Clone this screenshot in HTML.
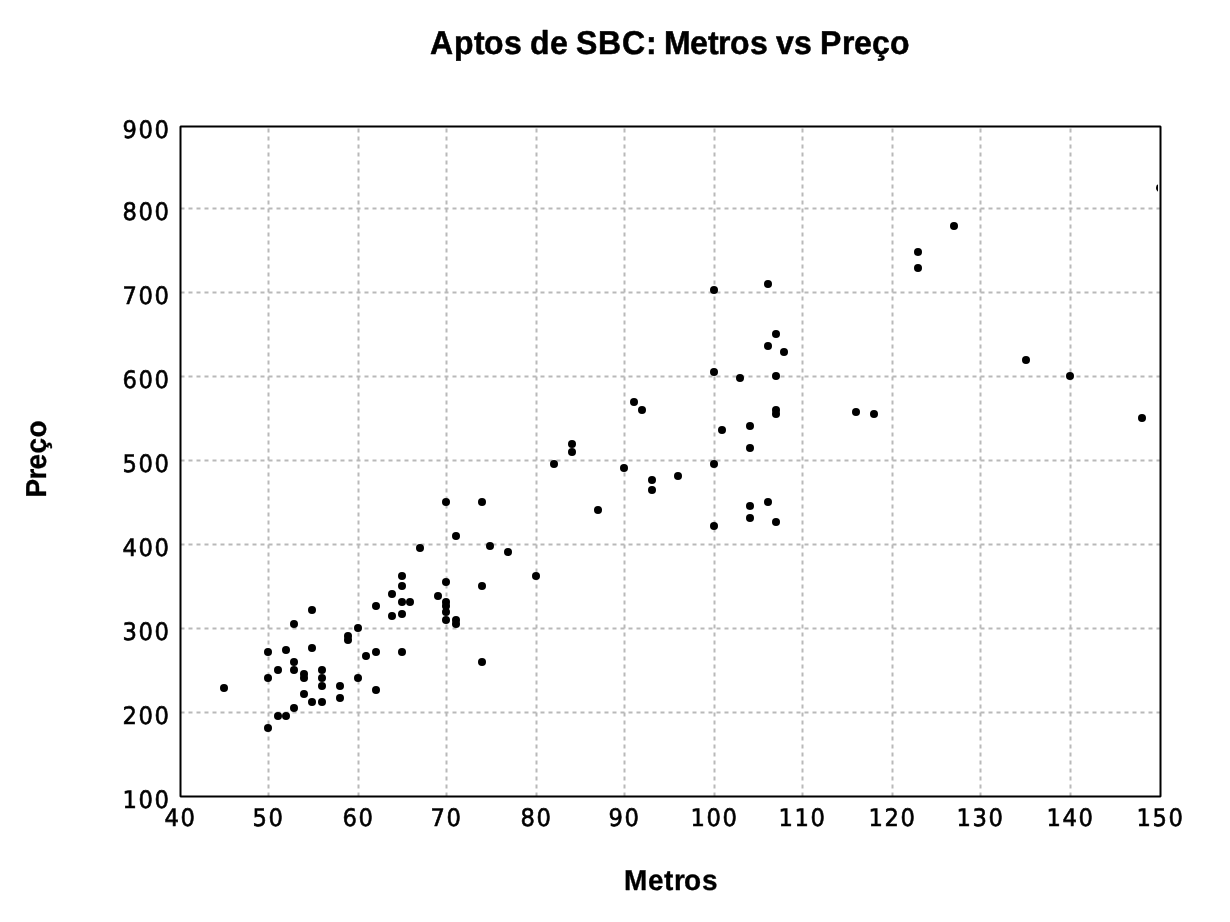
<!DOCTYPE html>
<html lang="pt-BR">
<head>
<meta charset="utf-8">
<title>Aptos de SBC: Metros vs Preço</title>
<style>
html,body{margin:0;padding:0;background:#fff;}
body{width:1230px;height:922px;overflow:hidden;}
svg{display:block;text-rendering:geometricPrecision;}
.t{font-family:"Liberation Sans",sans-serif;font-weight:bold;fill:#000;stroke:#000;stroke-width:0.5px;stroke-linejoin:round;}
.a{stroke-width:0.3px;}
.k{font-family:'DejaVu Sans', 'Liberation Sans', sans-serif;font-size:24.1px;fill:#000;stroke:#000;stroke-width:0.6px;}
.g{stroke:#b9b9b9;stroke-width:2;stroke-dasharray:4 4;fill:none;}
</style>
</head>
<body>
<svg width="1230" height="922" viewBox="0 0 1230 922">
<defs><clipPath id="pc"><rect x="182" y="128" width="976" height="667"/></clipPath></defs>
<rect width="1230" height="922" fill="#fff"/>
<text class="t" font-size="32" transform="translate(0 54) scale(1 1.03)" x="430 454 474 484 504 522 530 550 568 576 598 622 646 656 664 690 708 718 730 750 768 776 794 812 820 842 854 872 890" y="0">Aptos de SBC: Metros vs Preço</text>
<text class="t a" font-size="28" transform="translate(0 890) scale(1 1.03)" x="624 648 664 674 684 702" y="0">Metros</text>
<text class="t a" font-size="28" transform="translate(46 497.5) rotate(-90) scale(1 1.03)" x="0 18 28 44 60" y="0">Preço</text>
<g class="g">
<path d="M268.5 796.5V126.5"/>
<path d="M358.5 796.5V126.5"/>
<path d="M446.5 796.5V126.5"/>
<path d="M536.5 796.5V126.5"/>
<path d="M624.5 796.5V126.5"/>
<path d="M714.5 796.5V126.5"/>
<path d="M802.5 796.5V126.5"/>
<path d="M892.5 796.5V126.5"/>
<path d="M980.5 796.5V126.5"/>
<path d="M1070.5 796.5V126.5"/>
<path d="M180.5 208.5H1160.5"/>
<path d="M180.5 292.5H1160.5"/>
<path d="M180.5 376.5H1160.5"/>
<path d="M180.5 460.5H1160.5"/>
<path d="M180.5 544.5H1160.5"/>
<path d="M180.5 628.5H1160.5"/>
<path d="M180.5 712.5H1160.5"/>
</g>
<g class="k">
<text transform="scale(0.94 1)" x="130.32 147.34 164.36" y="138.1">900</text>
<text transform="scale(0.94 1)" x="130.32 147.34 164.36" y="220.1">800</text>
<text transform="scale(0.94 1)" x="130.32 147.34 164.36" y="304.1">700</text>
<text transform="scale(0.94 1)" x="130.32 147.34 164.36" y="388.1">600</text>
<text transform="scale(0.94 1)" x="130.32 147.34 164.36" y="472.1">500</text>
<text transform="scale(0.94 1)" x="130.32 147.34 164.36" y="556.1">400</text>
<text transform="scale(0.94 1)" x="130.32 147.34 164.36" y="640.1">300</text>
<text transform="scale(0.94 1)" x="130.32 147.34 164.36" y="724.1">200</text>
<text transform="scale(0.94 1)" x="130.32 147.34 164.36" y="808.1">100</text>
<text transform="scale(0.94 1)" x="175 192.02" y="826.2">40</text>
<text transform="scale(0.94 1)" x="268.62 285.64" y="826.2">50</text>
<text transform="scale(0.94 1)" x="364.36 381.38" y="826.2">60</text>
<text transform="scale(0.94 1)" x="457.98 475" y="826.2">70</text>
<text transform="scale(0.94 1)" x="553.72 570.74" y="826.2">80</text>
<text transform="scale(0.94 1)" x="647.34 664.36" y="826.2">90</text>
<text transform="scale(0.94 1)" x="734.57 751.6 768.62" y="826.2">100</text>
<text transform="scale(0.94 1)" x="828.19 845.21 862.23" y="826.2">110</text>
<text transform="scale(0.94 1)" x="923.94 940.96 957.98" y="826.2">120</text>
<text transform="scale(0.94 1)" x="1017.55 1034.57 1051.6" y="826.2">130</text>
<text transform="scale(0.94 1)" x="1113.3 1130.32 1147.34" y="826.2">140</text>
<text transform="scale(0.94 1)" x="1209.04 1226.06 1243.09" y="826.2">150</text>
</g>
<g fill="#000" clip-path="url(#pc)">
<circle cx="224" cy="688" r="4"/>
<circle cx="268" cy="652" r="4"/>
<circle cx="268" cy="678" r="4"/>
<circle cx="268" cy="728" r="4"/>
<circle cx="278" cy="670" r="4"/>
<circle cx="278" cy="716" r="4"/>
<circle cx="286" cy="650" r="4"/>
<circle cx="286" cy="716" r="4"/>
<circle cx="294" cy="624" r="4"/>
<circle cx="294" cy="662" r="4"/>
<circle cx="294" cy="670" r="4"/>
<circle cx="294" cy="708" r="4"/>
<circle cx="304" cy="674" r="4"/>
<circle cx="304" cy="678" r="4"/>
<circle cx="304" cy="694" r="4"/>
<circle cx="312" cy="610" r="4"/>
<circle cx="312" cy="648" r="4"/>
<circle cx="312" cy="702" r="4"/>
<circle cx="322" cy="670" r="4"/>
<circle cx="322" cy="678" r="4"/>
<circle cx="322" cy="686" r="4"/>
<circle cx="322" cy="702" r="4"/>
<circle cx="340" cy="686" r="4"/>
<circle cx="340" cy="698" r="4"/>
<circle cx="348" cy="636" r="4"/>
<circle cx="348" cy="640" r="4"/>
<circle cx="358" cy="628" r="4"/>
<circle cx="358" cy="678" r="4"/>
<circle cx="366" cy="656" r="4"/>
<circle cx="376" cy="606" r="4"/>
<circle cx="376" cy="652" r="4"/>
<circle cx="376" cy="690" r="4"/>
<circle cx="392" cy="594" r="4"/>
<circle cx="392" cy="616" r="4"/>
<circle cx="402" cy="576" r="4"/>
<circle cx="402" cy="586" r="4"/>
<circle cx="402" cy="602" r="4"/>
<circle cx="402" cy="614" r="4"/>
<circle cx="402" cy="652" r="4"/>
<circle cx="410" cy="602" r="4"/>
<circle cx="420" cy="548" r="4"/>
<circle cx="438" cy="596" r="4"/>
<circle cx="446" cy="502" r="4"/>
<circle cx="446" cy="582" r="4"/>
<circle cx="446" cy="602" r="4"/>
<circle cx="446" cy="606" r="4"/>
<circle cx="446" cy="612" r="4"/>
<circle cx="446" cy="620" r="4"/>
<circle cx="456" cy="536" r="4"/>
<circle cx="456" cy="620" r="4"/>
<circle cx="456" cy="624" r="4"/>
<circle cx="482" cy="502" r="4"/>
<circle cx="482" cy="586" r="4"/>
<circle cx="482" cy="662" r="4"/>
<circle cx="490" cy="546" r="4"/>
<circle cx="508" cy="552" r="4"/>
<circle cx="536" cy="576" r="4"/>
<circle cx="554" cy="464" r="4"/>
<circle cx="572" cy="444" r="4"/>
<circle cx="572" cy="452" r="4"/>
<circle cx="598" cy="510" r="4"/>
<circle cx="624" cy="468" r="4"/>
<circle cx="634" cy="402" r="4"/>
<circle cx="642" cy="410" r="4"/>
<circle cx="652" cy="480" r="4"/>
<circle cx="652" cy="490" r="4"/>
<circle cx="678" cy="476" r="4"/>
<circle cx="714" cy="290" r="4"/>
<circle cx="714" cy="372" r="4"/>
<circle cx="714" cy="464" r="4"/>
<circle cx="714" cy="526" r="4"/>
<circle cx="722" cy="430" r="4"/>
<circle cx="740" cy="378" r="4"/>
<circle cx="750" cy="426" r="4"/>
<circle cx="750" cy="448" r="4"/>
<circle cx="750" cy="506" r="4"/>
<circle cx="750" cy="518" r="4"/>
<circle cx="768" cy="284" r="4"/>
<circle cx="768" cy="346" r="4"/>
<circle cx="768" cy="502" r="4"/>
<circle cx="776" cy="334" r="4"/>
<circle cx="776" cy="376" r="4"/>
<circle cx="776" cy="410" r="4"/>
<circle cx="776" cy="414" r="4"/>
<circle cx="776" cy="522" r="4"/>
<circle cx="784" cy="352" r="4"/>
<circle cx="856" cy="412" r="4"/>
<circle cx="874" cy="414" r="4"/>
<circle cx="918" cy="252" r="4"/>
<circle cx="918" cy="268" r="4"/>
<circle cx="954" cy="226" r="4"/>
<circle cx="1026" cy="360" r="4"/>
<circle cx="1070" cy="376" r="4"/>
<circle cx="1142" cy="418" r="4"/>
<circle cx="1160" cy="188" r="4"/>
</g>
<rect x="180.5" y="126.5" width="980" height="670" fill="none" stroke="#000" stroke-width="2" stroke-linejoin="bevel"/>
</svg>
</body>
</html>
